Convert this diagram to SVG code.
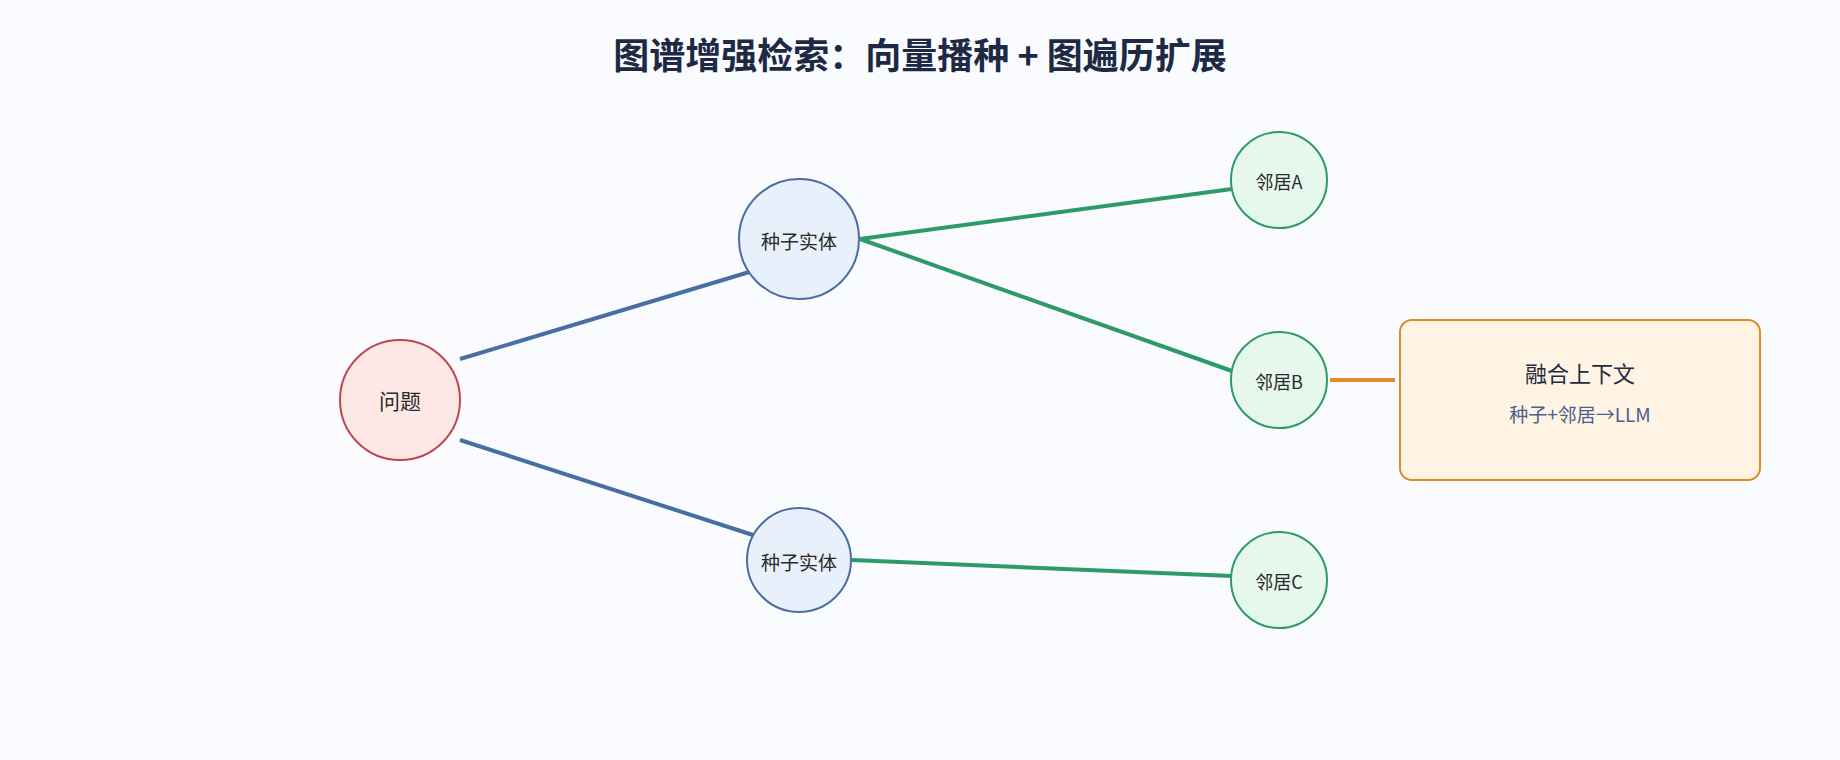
<svg xmlns="http://www.w3.org/2000/svg" width="1840" height="760" viewBox="0 0 1840 760">
<style>
text{font-family:"Noto Sans CJK SC","Noto Sans",sans-serif;text-anchor:middle;dominant-baseline:central}
.t{font-size:36px;font-weight:bold;fill:#1e2a44}
.n{font-size:19px;fill:#2a2a2a}
.s{font-size:18px;fill:#2a2a2a}
.q{fill:#fde8e6;stroke:#c0474a;stroke-width:2}
.e{fill:#e8f0fc;stroke:#4a6ea0;stroke-width:2}
.nb{fill:#e6f7ee;stroke:#2e9a68;stroke-width:2}
.blue{stroke:#4a6ea0;stroke-width:4}
.green{stroke:#2e9a68;stroke-width:4}
.or{stroke:#e08a2c;stroke-width:4}
</style>
<rect width="1840" height="760" fill="#f9fbff"/>
<text class="t" x="920" y="53">图谱增强检索：向量播种 + 图遍历扩展</text>
<g id="connectors" fill="none">
<line class="blue" x1="460" y1="359" x2="756" y2="270"/>
<line class="blue" x1="460" y1="440" x2="756" y2="536"/>
<line class="green" x1="860" y1="239" x2="1232" y2="189"/>
<line class="green" x1="860" y1="239" x2="1232" y2="371"/>
<line class="green" x1="852" y1="560" x2="1232" y2="576"/>
<line class="or" x1="1330" y1="380" x2="1395" y2="380"/>
</g>
<g id="q"><circle class="q" cx="400" cy="400" r="60"/><text class="n" x="400" y="400" style="font-size:21px">问题</text></g>
<g id="seed1"><circle class="e" cx="799" cy="239" r="60"/><text class="n" x="799" y="240">种子实体</text></g>
<g id="seed2"><circle class="e" cx="799" cy="560" r="52"/><text class="n" x="799" y="561">种子实体</text></g>
<g id="nA"><circle class="nb" cx="1279" cy="180" r="48"/><text class="s" x="1279" y="181">邻居A</text></g>
<g id="nB"><circle class="nb" cx="1279" cy="380" r="48"/><text class="s" x="1279" y="381">邻居B</text></g>
<g id="nC"><circle class="nb" cx="1279" cy="580" r="48"/><text class="s" x="1279" y="581">邻居C</text></g>
<g id="fuse"><rect x="1400" y="320" width="360" height="160" rx="12" fill="#fff3e3" stroke="#e08a2c" stroke-width="2"/>
<text x="1580" y="372" style="font-size:22px;fill:#1e2a44">融合上下文</text>
<text x="1580" y="413" style="font-size:19px;fill:#4a6090">种子+邻居→LLM</text></g>
</svg>
